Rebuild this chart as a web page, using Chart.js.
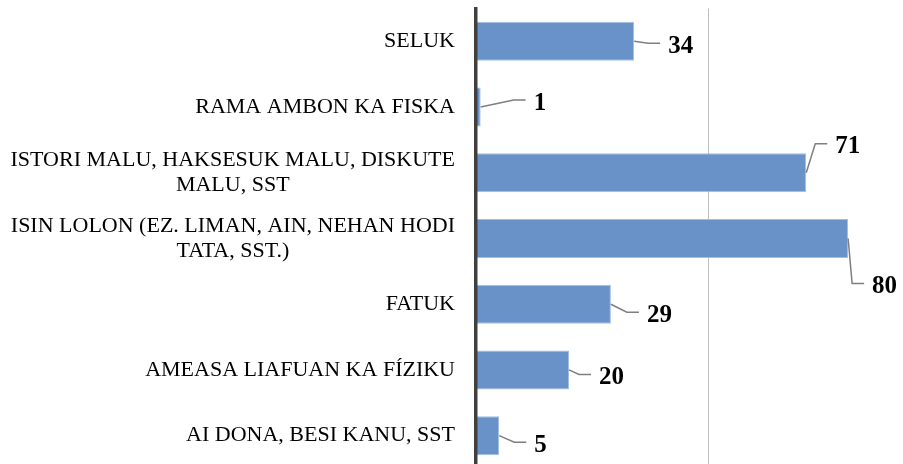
<!DOCTYPE html>
<html>
<head>
<meta charset="utf-8">
<script src="https://cdn.jsdelivr.net/npm/chart.js@4"></script>
<style>
  html, body { margin: 0; padding: 0; background: #fff; overflow: hidden; }
  #wrap { width: 903px; height: 470px; }
</style>
</head>
<body>
<div id="wrap"><canvas id="chart" width="903" height="470"></canvas></div>
<script>
// ── Data ────────────────────────────────────────────
const categories = [
    "SELUK",
    "RAMA AMBON KA FISKA",
    ["ISTORI MALU, HAKSESUK MALU, DISKUTE", "MALU, SST"],
    ["ISIN LOLON (EZ. LIMAN, AIN, NEHAN HODI", "TATA, SST.)"],
    "FATUK",
    "AMEASA LIAFUAN KA FÍZIKU",
    "AI DONA, BESI KANU, SST",
];
const values = [34, 1, 71, 80, 29, 20, 5];
const gridTicks = [0, 50];

// leader-line elbow offsets from the bar end (dx, dy), px
const labelElbows = [[14, 2], [33, -7], [9, -29], [4, 45], [16, 8], [10, 4.5], [15, 6.5]];

// ── Category labels: block right-aligned, lines centred (like Excel) ──
const categoryLabels = {
    id: "categoryLabels",
    afterDraw(chart) {
        const ctx = chart.ctx;
        const yScale = chart.scales.y;
        const right = yScale.right - 21;
        const lineH = 25;
        ctx.save();
        ctx.fillStyle = "#000";
        ctx.font = "22px 'Liberation Serif'";
        ctx.textBaseline = "middle";
        categories.forEach((lab, i) => {
            const lines = Array.isArray(lab) ? lab : [lab];
            const w = Math.max(...lines.map(l => ctx.measureText(l).width));
            const cx = right - w / 2;
            const yc = yScale.getPixelForTick(i);
            const y0 = yc - (lines.length - 1) * lineH / 2;
            ctx.textAlign = "center";
            lines.forEach((l, j) => ctx.fillText(l, cx, y0 + j * lineH));
        });
        ctx.restore();
    }
};

// ── Leader lines + value labels ─────────────────────
const leaderLabels = {
    id: "leaderLabels",
    afterDatasetsDraw(chart) {
        const ctx = chart.ctx;
        const meta = chart.getDatasetMeta(0);
        ctx.save();
        meta.data.forEach((bar, i) => {
            const [dx, dy] = labelElbows[i];
            const x0 = bar.x, y0 = bar.y;
            const ex = x0 + dx, ey = y0 + dy;
            ctx.strokeStyle = "#7f7f7f";
            ctx.lineWidth = 1.5;
            ctx.beginPath();
            ctx.moveTo(x0, y0);
            ctx.lineTo(ex, ey);
            ctx.lineTo(ex + 12, ey);
            ctx.stroke();
            ctx.fillStyle = "#000";
            ctx.font = "bold 25px 'Liberation Serif'";
            ctx.textAlign = "left";
            ctx.textBaseline = "middle";
            ctx.fillText(String(values[i]), ex + 20, ey + 3);
        });
        ctx.restore();
    }
};

const ctx = document.getElementById("chart").getContext("2d");
new Chart(ctx, {
    type: "bar",
    data: {
        labels: categories,
        datasets: [{
            data: values,
            backgroundColor: "#6993c8",
            borderColor: "#a2bee2",
            borderWidth: 1,
            categoryPercentage: 1,
            barPercentage: 0.594,
        }]
    },
    plugins: [leaderLabels, categoryLabels],
    options: {
        responsive: false,
        animation: false,
        indexAxis: "y",
        layout: { padding: { top: 8.5, bottom: 1.5, left: 0, right: 0 } },
        plugins: {
            legend: { display: false },
            tooltip: { enabled: false },
        },
        scales: {
            x: {
                min: 0,
                max: 91.8,
                afterBuildTicks: (scale) => { scale.ticks = gridTicks.map(v => ({ value: v })); },
                afterFit: (scale) => {
                    scale.height = 0;
                    scale.paddingLeft = scale.paddingRight = 0;
                    scale.paddingTop = scale.paddingBottom = 0;
                },
                ticks: { display: false },
                grid: {
                    color: (c) => c.tick && c.tick.value === 50 ? "#bfbfbf" : "rgba(0,0,0,0)",
                    lineWidth: 1,
                    drawTicks: false,
                },
                border: { display: false },
            },
            y: {
                afterFit: (scale) => {
                    scale.width = 476;
                    scale.paddingTop = scale.paddingBottom = 0;
                    scale.paddingLeft = scale.paddingRight = 0;
                },
                ticks: { display: false },
                grid: { display: false, drawTicks: false },
                border: { display: true, color: "#404040", width: 3.5, z: 1 },
            },
        },
    },
});
</script>
</body>
</html>
